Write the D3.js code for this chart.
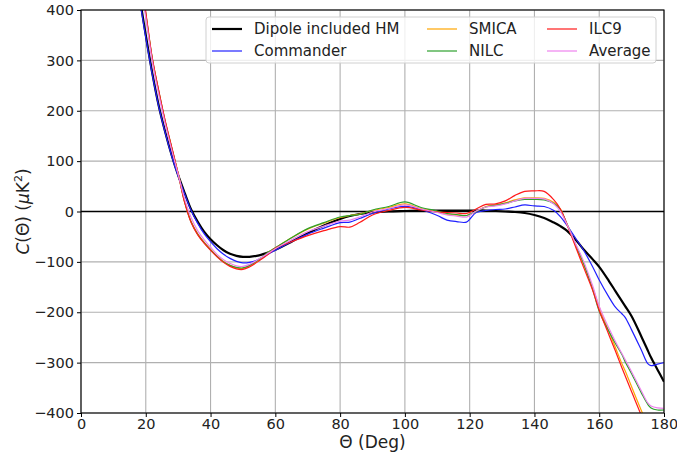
<!DOCTYPE html>
<html><head><meta charset="utf-8">
<script src="https://cdn.jsdelivr.net/npm/d3@7"></script>
<style>body{margin:0;background:#fff}svg{display:block}text{font-family:"DejaVu Sans",sans-serif}</style>
</head><body><svg id="c" width="677" height="457"></svg>
<script>
const theta = [15,18,20,22,24,26,28,30,32,34,36,38,40,42,44,46,48,50,52,55,58,60,65,70,75,80,83,86,90,95,100,105,110,113,116,119,122,125,128,131,134,137,140,143,146,148,150,153,155,158,160,163,165,167,168,170,173,175,176,178,180];
const dipoleHM = [560,430,350,275,210,158,112,72,37,4,-20,-40,-55,-67,-77,-84,-88,-90,-90,-87,-81,-76,-60,-43,-28,-15,-9,-5,-2,0,1,2,2,2,2,2,2,2,1,0,-1,-3,-7,-13,-22,-29,-38,-58,-74,-95,-110,-138,-158,-178,-188,-208,-248,-276,-290,-314,-338];
const commander = [555,425,345,272,208,156,110,70,35,2,-23,-44,-60,-74,-85,-93,-99,-102,-101,-95,-84,-77,-60,-45,-33,-22,-21,-14,-4,5,10,4,-8,-17,-20,-21,-2,2,4,5,9,13,11,10,2,-10,-27,-56,-75,-110,-136,-170,-190,-203,-210,-235,-275,-302,-306,-303,-300];
const smica = [610,475,392,303,238,178,127,75,19,-20,-44,-61,-75,-88,-99,-107,-112,-113,-108,-96,-80,-72,-52,-35,-23,-12,-8,-5,2,8,15,6,0,-6,-7,-8,0,10,13,17,23,27,27,26,18,5,-25,-72,-103,-152,-190,-238,-270,-302,-316,-348,-395,-425,-440,-465,-490];
const nilc = [612,478,393,304,239,179,127,75,19,-21,-45,-62,-76,-89,-100,-107,-111,-112,-107,-95,-80,-72,-52,-34,-22,-11,-8,-6,3,10,19,8,1,-4,-6,-8,0,9,12,16,21,24,24,23,16,4,-24,-70,-100,-155,-198,-238,-262,-284,-298,-322,-360,-383,-390,-394,-394];
const ilc9 = [620,480,395,305,240,180,128,75,18,-22,-46,-63,-77,-90,-101,-109,-114,-115,-110,-98,-84,-73,-60,-48,-38,-30,-31,-22,-7,2,8,3,-1,-2,-3,-4,5,14,15,21,32,40,41,40,23,5,-25,-75,-108,-157,-196,-245,-277,-310,-326,-358,-405,-440,-455,-480,-510];
const average = [590,465,385,298,232,174,122,74,25,-12,-38,-56,-71,-85,-96,-103,-108,-109,-105,-94,-82,-74,-56,-40,-29,-19,-17,-11,-1,6,13,5,-2,-7,-9,-11,1,9,11,15,21,26,26,25,15,0,-25,-68,-96,-148,-188,-232,-258,-282,-294,-318,-356,-380,-386,-390,-391];
const seriesNames = ["Dipole included HM","Commander","SMICA","NILC","ILC9","Average"];
const seriesColors = ["#000000","#2020ff","#ffa500","#2ca02c","#ff1a1a","#ee82ee"];
const seriesWidths = [2.2,1.2,1.2,1.2,1.2,1.2];
const xTicks = [0,20,40,60,80,100,120,140,160,180];
const yTicks = [-400,-300,-200,-100,0,100,200,300,400];

const allSeries = [dipoleHM, commander, smica, nilc, ilc9, average];
const svg = d3.select("#c");
const L=81,R=664,T=10,B=413;
const x = d3.scaleLinear().domain([0,180]).range([L,R]);
const y = d3.scaleLinear().domain([-400,400]).range([B,T]);

svg.append("defs").append("clipPath").attr("id","clip").append("rect")
  .attr("x",L).attr("y",T).attr("width",R-L).attr("height",B-T);

const grid = svg.append("g");
grid.selectAll(".gx").data(xTicks).join("line").attr("x1",d=>x(d)).attr("x2",d=>x(d)).attr("y1",T).attr("y2",B)
  .attr("stroke","#b0b0b0").attr("stroke-width",1.1);
grid.selectAll(".gy").data(yTicks).join("line").attr("y1",d=>y(d)).attr("y2",d=>y(d)).attr("x1",L).attr("x2",R)
  .attr("stroke","#b0b0b0").attr("stroke-width",1.1);

svg.append("line").attr("x1",L).attr("x2",R).attr("y1",y(0)).attr("y2",y(0)).attr("stroke","#000").attr("stroke-width",1.3);

const line = d3.line().x((d,i)=>x(theta[i])).y(d=>y(d)).curve(d3.curveCatmullRom.alpha(0.5));
const g = svg.append("g").attr("clip-path","url(#clip)");
allSeries.forEach((s,k)=>{
  g.append("path").datum(s).attr("d",line).attr("fill","none")
   .attr("stroke",seriesColors[k]).attr("stroke-width",seriesWidths[k]).attr("stroke-linejoin","round");
});

const xa = svg.append("g").attr("transform",`translate(0,${B})`).call(d3.axisBottom(x).tickValues(xTicks).tickSize(4).tickPadding(2).tickFormat(d3.format("d")));
const ya = svg.append("g").attr("transform",`translate(${L},0)`).call(d3.axisLeft(y).tickValues(yTicks).tickSize(4).tickPadding(3).tickFormat(d=>d<0?"\u2212"+Math.abs(d):d));
[xa,ya].forEach(a=>{a.select(".domain").remove();a.selectAll("text").attr("font-size",14.5).attr("fill","#222").attr("font-family","DejaVu Sans");a.selectAll("line").attr("stroke","#000");});
xa.selectAll("text").filter(d=>d===180).attr("text-anchor","end").attr("dx","0.95em");

svg.append("rect").attr("x",L).attr("y",T).attr("width",R-L).attr("height",B-T).attr("fill","none").attr("stroke","#000").attr("stroke-width",1.1);

svg.append("text").attr("x",(L+R)/2).attr("y",448).attr("text-anchor","middle").attr("font-size",17).attr("fill","#222").text("\u0398 (Deg)");
const yl = svg.append("text").attr("transform",`translate(29,${(T+B)/2}) rotate(-90)`).attr("text-anchor","middle").attr("font-size",17).attr("fill","#222");
yl.append("tspan").attr("font-style","italic").text("C");
yl.append("tspan").text("(\u0398) (");
yl.append("tspan").attr("font-style","italic").text("\u03bc");
yl.append("tspan").text("K");
yl.append("tspan").attr("font-size",11).attr("dy",-7).text("2");
yl.append("tspan").attr("dy",7).text(")");

const lg = svg.append("g");
lg.append("rect").attr("x",206).attr("y",17).attr("width",450).attr("height",46).attr("rx",3)
  .attr("fill","#fff").attr("fill-opacity",0.8).attr("stroke","#d0d0d0");
const colX=[212,427,547], rowY=[29,51];
seriesNames.forEach((n,k)=>{
  const c=Math.floor(k/2), r=k%2;
  lg.append("line").attr("x1",colX[c]).attr("x2",colX[c]+30).attr("y1",rowY[r]).attr("y2",rowY[r])
    .attr("stroke",seriesColors[k]).attr("stroke-width",seriesWidths[k]);
  lg.append("text").attr("x",colX[c]+42).attr("y",rowY[r]+5).attr("font-size",15).attr("fill","#222").text(n);
});
</script></body></html>
